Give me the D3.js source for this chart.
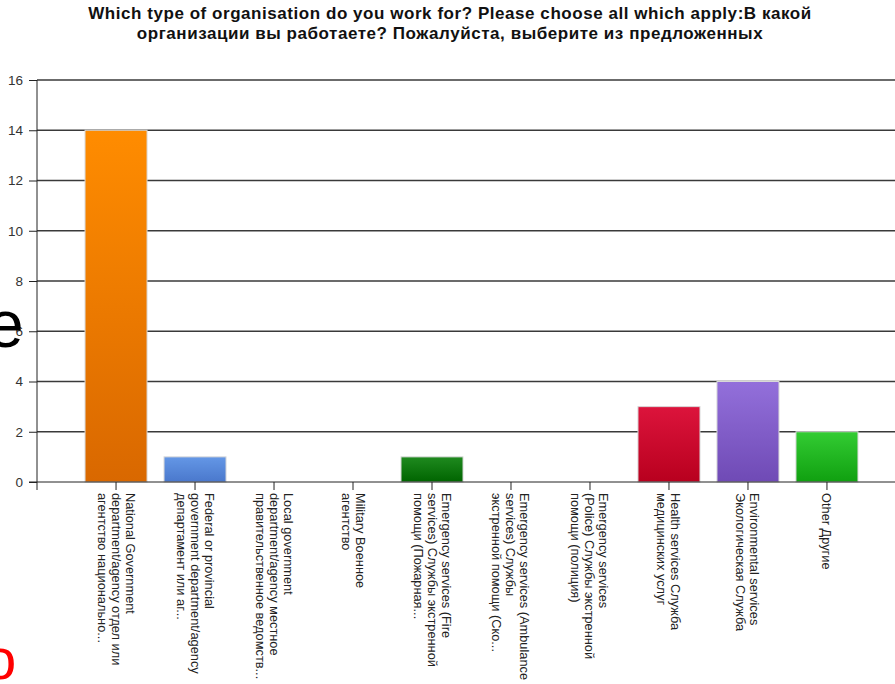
<!DOCTYPE html>
<html>
<head>
<meta charset="utf-8">
<script src="https://cdn.jsdelivr.net/npm/d3@7"></script>
<style>
  html, body { margin: 0; padding: 0; background: #fff; overflow: hidden; }
  svg { display: block; font-family: "Liberation Sans", Arial, sans-serif; }
</style>
</head>
<body>
<svg id="chart" width="895" height="684"></svg>
<script>
// Survey answers: organisation type (multi-select), number of respondents
const categories = [
  ["National Government", "department/agency отдел или", "агентство национально..."],
  ["Federal or provincial", "government department/agency", "департамент или аг..."],
  ["Local government", "department/agency местное", "правительственное ведомств..."],
  ["Military Военное", "агентство"],
  ["Emergency services  (Fire", "services) Службы экстренной", "помощи (Пожарная..."],
  ["Emergency services  (Ambulance", "services) Службы", "экстренной помощи (Ско..."],
  ["Emergency services", "(Police) Службы экстренной", "помощи (полиция)"],
  ["Health services Служба", "медицинских услуг"],
  ["Environmental services", "Экологическая Служба"],
  ["Other Другие"]
];
const counts = [14, 1, 0, 0, 1, 0, 0, 3, 4, 2];
const yTicks = [0, 2, 4, 6, 8, 10, 12, 14, 16];
const titleLines = [
  "Which type of organisation do you work for? Please choose all which apply:В какой",
  "организации вы работаете? Пожалуйста, выберите из предложенных"
];

// bar fills: [top, bottom] of each vertical gradient
const palette = [
  ["#ff8c00", "#d96800"],
  ["#6497e6", "#4a78cc"],
  ["#1f8a1f", "#006400"],
  ["#1f8a1f", "#006400"],
  ["#1f8a1f", "#006400"],
  ["#1f8a1f", "#006400"],
  ["#1f8a1f", "#006400"],
  ["#dc143c", "#b8001e"],
  ["#9370db", "#6f4ab5"],
  ["#33cc33", "#10a010"]
];

const svg = d3.select("#chart");
const plotLeft = 37, plotRight = 906, plotTop = 80, plotBottom = 482;

const x = d3.scaleBand()
  .domain(d3.range(categories.length))
  .range([plotLeft, plotRight])
  .paddingOuter(0.608)
  .paddingInner(0.215);

const y = d3.scaleLinear().domain([0, 16]).range([plotBottom, plotTop]);

// gradients
const defs = svg.append("defs");
palette.forEach((c, i) => {
  const g = defs.append("linearGradient")
    .attr("id", "grad" + i)
    .attr("x1", 0).attr("y1", 0).attr("x2", 0).attr("y2", 1);
  g.append("stop").attr("offset", "0%").attr("stop-color", c[0]);
  g.append("stop").attr("offset", "100%").attr("stop-color", c[1]);
});

// title
svg.append("g")
  .selectAll("text")
  .data(titleLines)
  .join("text")
  .attr("x", 450)
  .attr("y", (d, i) => 19 + i * 20)
  .attr("text-anchor", "middle")
  .attr("font-weight", "bold")
  .attr("font-size", 17)
  .attr("letter-spacing", 0.55)
  .attr("fill", "#111")
  .text(d => d);

// horizontal gridlines
svg.append("g")
  .selectAll("line")
  .data(yTicks.filter(t => t > 0))
  .join("line")
  .attr("x1", plotLeft).attr("x2", 895)
  .attr("y1", d => y(d)).attr("y2", d => y(d))
  .attr("stroke", "#3a3a3a")
  .attr("stroke-width", 1.4);

// y axis
const yAxis = svg.append("g")
  .attr("transform", `translate(${plotLeft},0)`)
  .call(d3.axisLeft(y).tickValues(yTicks).tickSize(8).tickPadding(6).tickFormat(d3.format("d")));
yAxis.select(".domain").attr("stroke", "#222").attr("d", `M0,${y(16)}V${plotBottom + 8}`);
yAxis.selectAll(".tick line").attr("stroke", "#222");
yAxis.selectAll(".tick text")
  .attr("font-size", 13.5)
  .attr("fill", "#333")
  .attr("font-family", "Liberation Sans, Arial, sans-serif");

// bars
svg.append("g")
  .selectAll("rect")
  .data(counts)
  .join("rect")
  .attr("x", (d, i) => x(i))
  .attr("width", x.bandwidth())
  .attr("y", d => y(d))
  .attr("height", d => y(0) - y(d))
  .attr("fill", (d, i) => `url(#grad${i})`)
  .attr("stroke", d => d > 0 ? "#d8d8d8" : "none")
  .attr("stroke-width", 1);

// x axis
const xAxis = svg.append("g")
  .attr("transform", `translate(0,${plotBottom})`)
  .call(d3.axisBottom(x).tickSize(8).tickFormat(""));
xAxis.select(".domain").attr("stroke", "#222").attr("d", `M${plotLeft - 8},0H895`);
xAxis.selectAll(".tick line").attr("stroke", "#222");

// rotated, multi-line category labels
const labels = svg.append("g")
  .selectAll("text")
  .data(categories)
  .join("text")
  .attr("transform", (d, i) => `translate(${x(i) + x.bandwidth() / 2},${plotBottom + 11}) rotate(90)`)
  .attr("font-size", 12.8)
  .attr("fill", "#222");
labels.selectAll("tspan")
  .data(d => d.map((line, j) => ({ line, j, n: d.length })))
  .join("tspan")
  .attr("x", 0)
  .attr("y", d => (d.j - (d.n - 1) / 2) * 14)
  .attr("dominant-baseline", "central")
  .text(d => d.line);

// overlapping slide text at the left edge
svg.append("text")
  .attr("x", -13).attr("y", 347)
  .attr("font-size", 66)
  .attr("fill", "#000")
  .text("e");
svg.append("text")
  .attr("x", -16).attr("y", 679)
  .attr("font-size", 58)
  .attr("fill", "#ff0000")
  .text("o");
</script>
</body>
</html>
